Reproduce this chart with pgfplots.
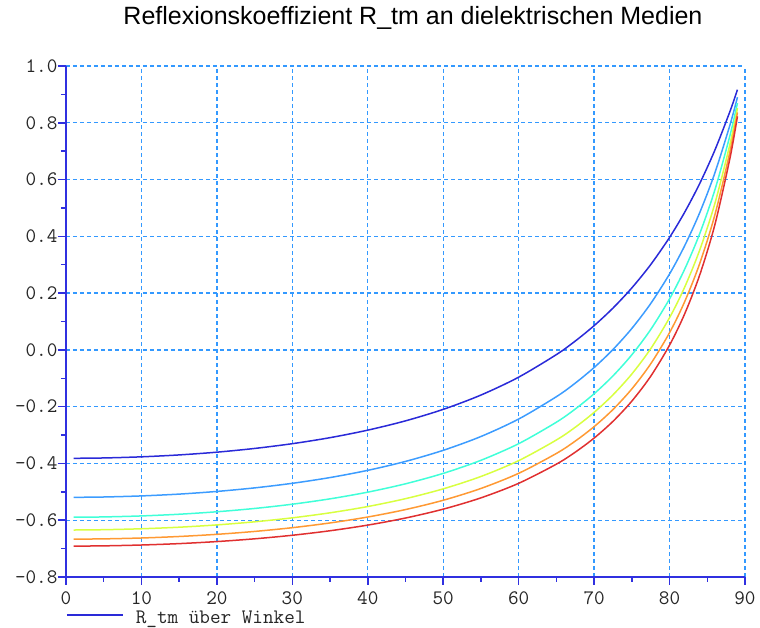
\documentclass[border=0pt]{standalone}
\usepackage{fontspec}
\setmainfont{Liberation Sans}
\usepackage{pgfplots}
\usepackage{pgfplotstable}
\pgfplotsset{compat=1.18}
\definecolor{axisblue}{HTML}{3030E0}
\definecolor{gridblue}{HTML}{3399FF}
\definecolor{cA}{HTML}{2A2AD8}
\definecolor{cB}{HTML}{3C9CFF}
\definecolor{cC}{HTML}{40FFD8}
\definecolor{cD}{HTML}{D8FF40}
\definecolor{cE}{HTML}{FF9933}
\definecolor{cF}{HTML}{E03030}
\pgfplotstableread{
x  e5 e10 e15 e20 e25 e30
1  -0.3819 -0.5194 -0.5895 -0.6345 -0.6666 -0.6912
5  -0.3807 -0.5182 -0.5884 -0.6334 -0.6657 -0.6903
10 -0.3767 -0.5144 -0.5849 -0.6301 -0.6626 -0.6873
15 -0.3700 -0.5080 -0.5789 -0.6246 -0.6573 -0.6824
20 -0.3603 -0.4986 -0.5702 -0.6165 -0.6497 -0.6752
25 -0.3472 -0.4861 -0.5586 -0.6056 -0.6395 -0.6655
30 -0.3304 -0.4700 -0.5436 -0.5916 -0.6263 -0.6530
35 -0.3092 -0.4497 -0.5247 -0.5739 -0.6096 -0.6371
40 -0.2827 -0.4243 -0.5011 -0.5518 -0.5887 -0.6172
45 -0.2500 -0.3929 -0.4717 -0.5241 -0.5625 -0.5923
50 -0.2095 -0.3538 -0.4350 -0.4895 -0.5297 -0.5610
55 -0.1591 -0.3051 -0.3889 -0.4459 -0.4881 -0.5212
60 -0.0961 -0.2436 -0.3304 -0.3901 -0.4348 -0.4700
65 -0.0166 -0.1649 -0.2547 -0.3174 -0.3648 -0.4025
67.5 0.0311 -0.1171 -0.2083 -0.2725 -0.3213 -0.3603
70 0.0853 -0.0622 -0.1545 -0.2201 -0.2704 -0.3107
72.5 0.1472 0.0013 -0.0916 -0.1584 -0.2100 -0.2517
75 0.2183 0.0755 -0.0173 -0.0849 -0.1375 -0.1804
77.5 0.3004 0.1631 0.0717 0.0041 -0.0492 -0.0929
80 0.3962 0.2675 0.1797 0.1135 0.0607 0.0168
82 0.4847 0.3667 0.2841 0.2208 0.1696 0.1267
84 0.5861 0.4834 0.4096 0.3518 0.3044 0.2641
86 0.7032 0.6228 0.5630 0.5151 0.4750 0.4403
88 0.8395 0.7916 0.7545 0.7240 0.6977 0.6745
89 0.9164 0.8901 0.8692 0.8517 0.8365 0.8228
}\datatable
\begin{document}
\begin{tikzpicture}
\useasboundingbox (-66pt,-51pt) rectangle (694pt,577pt);
\begin{axis}[
  scale only axis,
  width=679pt, height=511pt,
  xmin=0, xmax=90, ymin=-0.8, ymax=1.0,
  axis x line=bottom, axis y line=left,
  axis line style={-, draw=axisblue, line width=2pt},
  xtick={0,10,...,90},
  ytick={-0.8,-0.6,-0.4,-0.2,0,0.2,0.4,0.6,0.8,1.0},
  yticklabels={-0.8,-0.6,-0.4,-0.2,0.0,0.2,0.4,0.6,0.8,1.0},
  xticklabels={0,10,20,30,40,50,60,70,80,90},
  minor x tick num=1, minor y tick num=1,
  tick align=outside,
  major tick length=8pt, minor tick length=5pt,
  tick style={draw=axisblue, line width=1.5pt},
  ticklabel style={font=\ttfamily\fontsize{20.6}{20.6}\selectfont, text=black!85},
  xticklabel style={yshift=-3pt},
  yticklabel style={xshift=3pt},
  xmajorgrids, ymajorgrids,
  major grid style={draw=gridblue, line width=1.4pt, dash pattern=on 4pt off 3pt},
  every axis plot/.append style={line width=1.5pt, mark=none, smooth, tension=0.5},
  legend style={draw=none, fill=none, at={(0,0)}, anchor=west, yshift=-40.5pt,
    inner sep=0pt, font=\ttfamily\fontsize{20.6}{20.6}\selectfont, text=black!85},
  legend image code/.code={\draw[#1, line width=1.6pt] (0pt,0.25em) -- (56pt,0.25em);},
  legend cell align=left,
]
\addplot[cA] table[x=x, y=e5] {\datatable};
\addlegendentry{\hspace{10pt}R\_tm über Winkel}
\addplot[cB, forget plot] table[x=x, y=e10] {\datatable};
\addplot[cC, forget plot] table[x=x, y=e15] {\datatable};
\addplot[cD, forget plot] table[x=x, y=e20] {\datatable};
\addplot[cE, forget plot] table[x=x, y=e25] {\datatable};
\addplot[cF, forget plot] table[x=x, y=e30] {\datatable};
\end{axis}
\node[font=\fontsize{25}{28}\selectfont, text=black] at (347pt,559pt) {Reflexionskoeffizient R\_tm an dielektrischen Medien};
\end{tikzpicture}
\end{document}
